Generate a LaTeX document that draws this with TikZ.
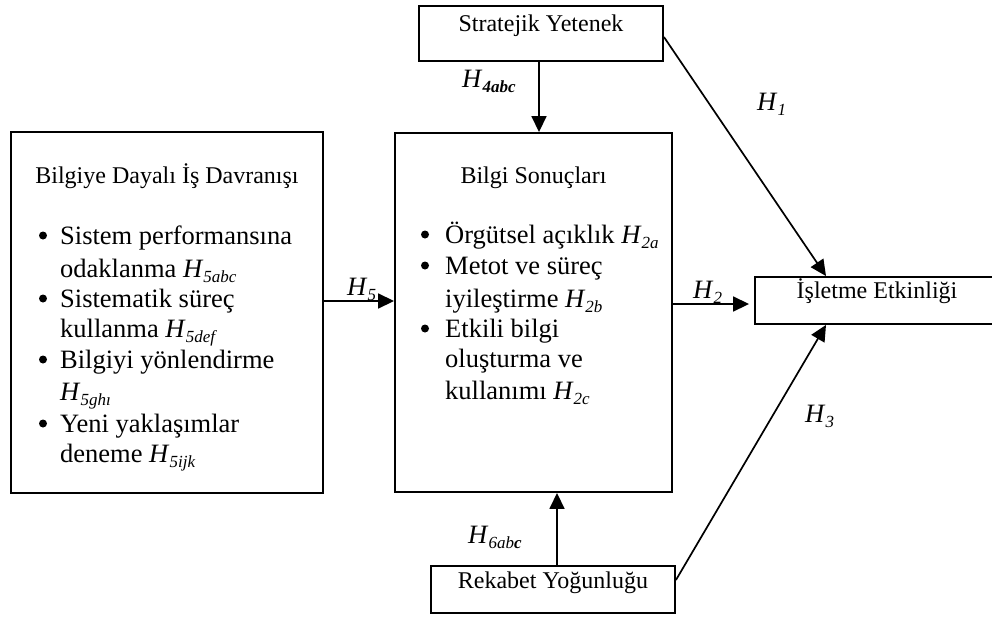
\documentclass[tikz,border=0pt]{standalone}
\usepackage{fontspec}
\setmainfont{Liberation Serif}
\usepackage{graphicx}
\usetikzlibrary{arrows.meta}
\newcommand\Hs[1]{\textit{H}\raisebox{-0.22em}{\fontsize{17}{17}\selectfont\itshape #1}}
\begin{document}
\begin{tikzpicture}[x=1pt,y=-1pt,
  box/.style={draw, line width=1.9pt, inner sep=0pt},
  ttl/.style={font=\fontsize{24}{28}\selectfont, anchor=base, inner sep=0pt},
  itm/.style={font=\fontsize{26.5}{31}\selectfont, anchor=base west, inner sep=0pt},
  bul/.style={circle, fill, inner sep=0pt, minimum size=8pt},
  hl/.style={font=\fontsize{26.5}{31}\selectfont, anchor=base west, inner sep=0pt},
  arr/.style={line width=1.7pt, -{Triangle[length=16pt,width=15pt]}}]
\useasboundingbox (0,0) rectangle (992,616);
% boxes
\node[box, minimum width=312pt, minimum height=361pt] (left) at (167,312.5) {};
\node[box, minimum width=277pt, minimum height=359pt] (cent) at (533.5,312.5) {};
\node[box, minimum width=244pt, minimum height=55pt] (strat) at (541,33.5) {};
\node[box, minimum width=244pt, minimum height=47pt] (rek) at (553,589.5) {};
\node[box, minimum width=245pt, minimum height=47pt] (isl) at (877.5,300.5) {};
% box texts
\node[ttl] (tstrat) at (541,31) {Stratejik Yetenek};
\node[ttl] (trek) at (553,588) {Rekabet Yoğunluğu};
\node[ttl] (tisl) at (877,298) {İşletme Etkinliği};
\node[ttl] (tleft) at (167,183) {Bilgiye Dayalı İş Davranışı};
\node[ttl] (tcent) at (533.5,183) {Bilgi Sonuçları};
% left list
\node[bul] (lb1) at (43,235.5) {};
\node[itm] (l1) at (60,244) {Sistem performansına};
\node[itm] (l2) at (60,277) {odaklanma \Hs{5abc}};
\node[bul] (lb2) at (43,298.5) {};
\node[itm] (l3) at (60,307) {Sistematik süreç};
\node[itm] (l4) at (60,337) {kullanma \Hs{5def}};
\node[bul] (lb3) at (43,359.5) {};
\node[itm] (l5) at (60,368) {Bilgiyi yönlendirme};
\node[itm] (l6) at (60,400) {\Hs{5ghı}};
\node[bul] (lb4) at (43,423.5) {};
\node[itm] (l7) at (60,432) {Yeni yaklaşımlar};
\node[itm] (l8) at (60,462) {deneme \Hs{5ijk}};
% centre list
\node[bul] (cb1) at (425,234.5) {};
\node[itm] (c1) at (445,243) {Örgütsel açıklık \Hs{2a}};
\node[bul] (cb2) at (425,265.5) {};
\node[itm] (c2) at (445,274) {Metot ve süreç};
\node[itm] (c3) at (445,307) {iyileştirme \Hs{2b}};
\node[bul] (cb3) at (425,328.5) {};
\node[itm] (c4) at (445,337) {Etkili bilgi};
\node[itm] (c5) at (445,367) {oluşturma ve};
\node[itm] (c6) at (445,399) {kullanımı \Hs{2c}};
% connector anchors
\coordinate (a4) at (539,0);
\coordinate (a6) at (557,0);
\coordinate (a5) at (0,301);
\coordinate (a2) at (0,304);
\coordinate (t13) at (826,0);
% connectors
\draw[arr] (a4 |- strat.south) -- (a4 |- cent.north);
\draw[arr] (a6 |- rek.north) -- (a6 |- cent.south);
\draw[arr] (left.east |- a5) -- (cent.west |- a5);
\draw[arr, shorten >=5pt] (cent.east |- a2) -- (isl.west |- a2);
\draw[arr] ([yshift=-3.5pt]strat.east) -- (t13 |- isl.north);
\draw[arr] ([yshift=9.5pt]rek.east) -- (t13 |- isl.south);
% labels
\node[hl] (h4) at (462,87) {\Hs{\bfseries 4abc}};
\node[hl] (h6) at (468,543) {\Hs{6ab\textbf{c}}};
\node[hl] (h5) at (347,295) {\Hs{5}};
\node[hl] (h2) at (693,298) {\Hs{2}};
\node[hl] (h1) at (757,110) {\Hs{1}};
\node[hl] (h3) at (805,422) {\Hs{3}};
\end{tikzpicture}
\end{document}
